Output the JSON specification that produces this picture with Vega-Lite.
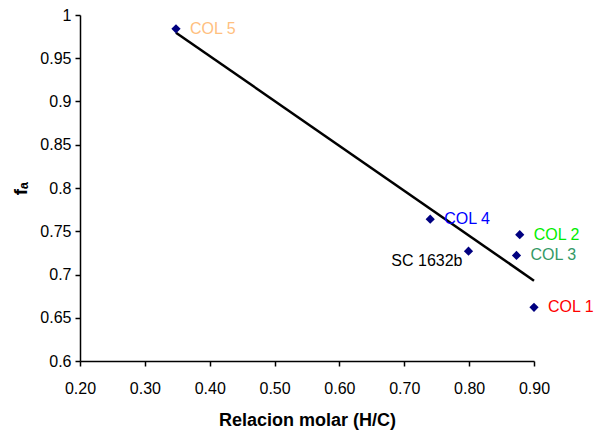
{
  "$schema": "https://vega.github.io/schema/vega-lite/v6.json",
  "autosize": "none",
  "width": 454,
  "height": 346,
  "padding": {"left": 80, "top": 15, "right": 63, "bottom": 71},
  "background": "white",
  "config": {
    "view": {"stroke": null},
    "font": "Liberation Sans",
    "axis": {
      "grid": false,
      "domainColor": "black",
      "domainWidth": 1.5,
      "tickColor": "black",
      "tickWidth": 1.5,
      "tickSize": 5,
      "labelColor": "black",
      "labelFontSize": 16,
      "labelFlush": false,
      "labelFont": "Liberation Sans",
      "titleFont": "Liberation Sans",
      "titleColor": "black",
      "titleFontWeight": "bold"
    }
  },
  "data": {
    "values": [
      {"hc": 0.348, "fa": 0.984, "label": "COL 5", "side": "right"},
      {"hc": 0.740, "fa": 0.764, "label": "COL 4", "side": "right"},
      {"hc": 0.799, "fa": 0.727, "label": "SC 1632b", "side": "left"},
      {"hc": 0.878, "fa": 0.746, "label": "COL 2", "side": "right"},
      {"hc": 0.873, "fa": 0.722, "label": "COL 3", "side": "right"},
      {"hc": 0.900, "fa": 0.662, "label": "COL 1", "side": "right"}
    ]
  },
  "layer": [
    {
      "transform": [{"regression": "fa", "on": "hc"}],
      "mark": {"type": "line", "color": "black", "strokeWidth": 2.5},
      "encoding": {
        "x": {"field": "hc", "type": "quantitative"},
        "y": {"field": "fa", "type": "quantitative"}
      }
    },
    {
      "mark": {"type": "point", "shape": "diamond", "filled": true, "color": "#000080", "size": 85, "opacity": 1},
      "encoding": {
        "x": {
          "field": "hc", "type": "quantitative",
          "scale": {"domain": [0.2, 0.9], "nice": false, "zero": false},
          "axis": {"values": [0.2, 0.3, 0.4, 0.5, 0.6, 0.7, 0.8, 0.9], "format": ".2f", "title": "Relacion molar (H/C)", "titleFontSize": 18, "labelPadding": 14, "titlePadding": 15}
        },
        "y": {
          "field": "fa", "type": "quantitative",
          "scale": {"domain": [0.6, 1.0], "nice": false, "zero": false},
          "axis": {"values": [0.6, 0.65, 0.7, 0.75, 0.8, 0.85, 0.9, 0.95, 1.0], "format": "~g", "title": "fₐ", "titleFontSize": 19, "labelPadding": 4, "titlePadding": 9}
        }
      }
    },
    {
      "transform": [{"filter": "datum.side == 'right'"}],
      "mark": {"type": "text", "align": "left", "baseline": "middle", "dx": 14, "fontSize": 16},
      "encoding": {
        "x": {"field": "hc", "type": "quantitative"},
        "y": {"field": "fa", "type": "quantitative"},
        "text": {"field": "label"},
        "color": {
          "field": "label", "type": "nominal",
          "scale": {"domain": ["COL 1", "COL 2", "COL 3", "COL 4", "COL 5"], "range": ["#FF0000", "#00EE00", "#339966", "#0000FF", "#FFC080"]},
          "legend": null
        }
      }
    },
    {
      "transform": [{"filter": "datum.side == 'left'"}],
      "mark": {"type": "text", "align": "right", "baseline": "middle", "dx": -6, "dy": 10, "fontSize": 16, "color": "black"},
      "encoding": {
        "x": {"field": "hc", "type": "quantitative"},
        "y": {"field": "fa", "type": "quantitative"},
        "text": {"field": "label"}
      }
    }
  ]
}
